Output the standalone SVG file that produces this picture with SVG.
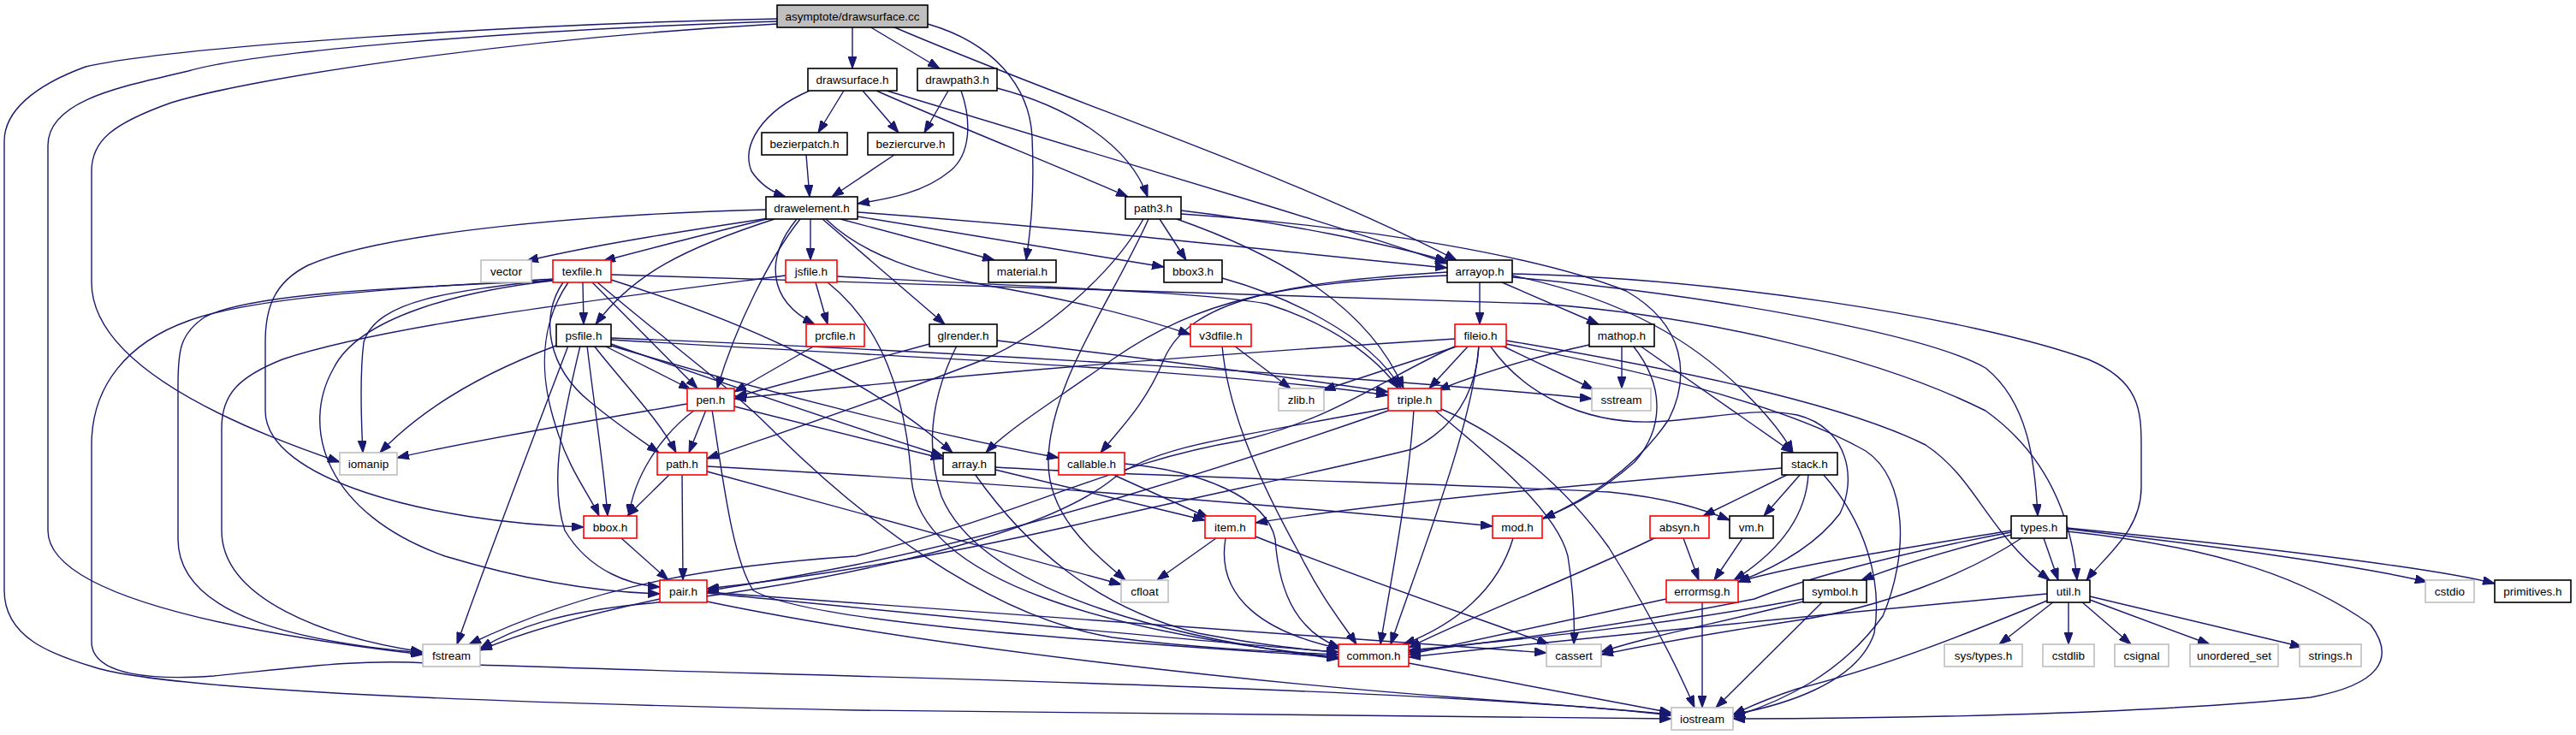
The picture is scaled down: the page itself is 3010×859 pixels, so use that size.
<svg xmlns="http://www.w3.org/2000/svg" width="3010" height="859" viewBox="0 0 3010 859">
<defs>
<marker id="a" markerWidth="14" markerHeight="10" refX="14" refY="5" orient="auto" markerUnits="userSpaceOnUse"><path d="M0,0L14,5L0,10z" fill="#191970" stroke="#191970" stroke-width="1"/></marker>
<style>
.e path{fill:none;stroke:#191970;stroke-width:1.4;marker-end:url(#a)}
rect{fill:#fff;stroke-width:1.6}
.k rect{stroke:#000}
.r rect{stroke:#ff0000}
.g rect{stroke:#bfbfbf}
.top rect{fill:#bfbfbf;stroke:#000}
text{font-family:"Liberation Sans",Arial,sans-serif;font-size:13.5px;text-anchor:middle;fill:#000}
</style>
</defs>
<rect x="0" y="0" width="3010" height="859" style="fill:#fff;stroke:none"/>
<g id="edges" class="e">
<path d="M996,31 L996,80"/>
<path d="M1016,31 L1098,80"/>
<path d="M1084,28 C1160,50 1203,100 1206,160 C1209,230 1204,270 1199,304"/>
<path d="M1043,31 C1250,120 1500,200 1702,304"/>
<path d="M908,22 C600,28 200,55 100,78 C40,100 5,130 5,165 L5,690 C5,745 60,765 111,780 C200,808 600,822 1000,830 C1500,838 1800,840 1953,840"/>
<path d="M908,25 C600,35 300,60 220,83 C150,100 56,115 56,170 L56,620 C56,700 300,742 494,765"/>
<path d="M908,28 C600,45 300,90 200,120 C130,145 107,165 107,200 L107,330 C107,420 250,490 397,540"/>
<path d="M986,106 L956,155"/>
<path d="M1008,106 L1050,155"/>
<path d="M946,106 C890,130 866,170 878,200 C888,215 903,225 918,230"/>
<path d="M1024,106 C1100,140 1250,200 1318,230"/>
<path d="M1036,106 L1480,240 Q1620,283 1691,308"/>
<path d="M1108,106 L1080,155"/>
<path d="M1123,106 C1135,140 1135,180 1110,200 C1080,225 1040,232 1002,238"/>
<path d="M1165,103 C1250,125 1320,170 1341,230"/>
<path d="M942,181 L946,230"/>
<path d="M1045,181 L972,230"/>
<path d="M905,254 C800,270 700,285 615,305"/>
<path d="M900,255 C820,275 760,290 705,305"/>
<path d="M947,256 L947,304"/>
<path d="M982,256 L1162,304"/>
<path d="M1002,253 L1360,312"/>
<path d="M1002,248 C1300,270 1500,295 1691,313"/>
<path d="M905,256 C800,290 740,320 696,379"/>
<path d="M931,256 C895,300 895,350 952,379"/>
<path d="M961,256 L1104,379"/>
<path d="M965,256 C1010,300 1080,320 1150,333 C1250,350 1330,370 1391,391"/>
<path d="M935,256 C900,300 860,380 838,454"/>
<path d="M895,245 C700,250 450,270 360,310 C320,330 310,360 310,400 L310,480 C310,560 500,610 682,616"/>
<path d="M1355,256 L1386,304"/>
<path d="M1380,246 C1500,260 1620,285 1691,305"/>
<path d="M1375,256 C1500,300 1600,360 1640,454"/>
<path d="M1336,256 C1300,320 1220,390 1150,420 C1050,460 900,510 826,536"/>
<path d="M1342,256 C1300,350 1225,450 1225,540 C1225,600 1270,640 1315,678"/>
<path d="M1380,250 C1600,265 1800,300 1900,340 C1970,380 1975,440 1950,490 C1910,550 1850,585 1803,606"/>
<path d="M681,330 L682,379"/>
<path d="M692,330 L815,454"/>
<path d="M658,330 C630,370 640,430 690,470 C720,495 745,512 770,529"/>
<path d="M664,330 C630,380 630,440 650,500 C665,550 690,580 700,603"/>
<path d="M646,328 C540,340 420,370 390,430 C350,500 380,600 520,650 C620,680 700,692 771,694"/>
<path d="M646,327 C530,340 440,350 425,400 C420,440 422,490 424,529"/>
<path d="M646,328 C500,335 300,340 240,370 C210,390 208,410 208,450 L208,630 C208,720 350,750 494,763"/>
<path d="M646,326 C500,335 300,345 220,375 C150,400 107,450 107,520 L107,750 C107,790 180,795 250,790 C350,780 420,770 500,775 C900,790 1600,800 1953,835"/>
<path d="M698,330 C780,400 850,450 900,500 C1000,600 1150,720 1300,745 C1400,758 1500,762 1564,765"/>
<path d="M714,327 C850,370 1000,430 1113,529"/>
<path d="M714,321 C1000,330 1500,345 1800,355 C2000,370 2200,420 2320,480 C2390,530 2420,600 2427,678"/>
<path d="M953,330 L967,379"/>
<path d="M918,322 C700,350 450,380 330,420 C280,440 259,460 259,500 L259,620 C259,700 380,745 494,762"/>
<path d="M967,330 C1030,380 1058,460 1065,560 C1075,680 1300,740 1564,768"/>
<path d="M978,323 C1150,333 1400,340 1480,355 C1560,380 1610,420 1634,454"/>
<path d="M1428,325 C1500,345 1600,390 1637,454"/>
<path d="M1729,330 L1729,379"/>
<path d="M1755,330 L1868,379"/>
<path d="M1767,322 C1900,350 1980,400 2040,460 C2070,490 2085,510 2095,529"/>
<path d="M1767,324 C2000,345 2250,390 2320,430 C2370,470 2378,540 2381,603"/>
<path d="M1767,320 C2000,325 2300,370 2440,420 C2500,445 2502,480 2502,520 L2502,570 C2502,620 2460,650 2438,678"/>
<path d="M1691,318 C1500,330 1390,350 1360,420 C1340,470 1310,500 1286,529"/>
<path d="M1691,322 C1500,330 1400,350 1300,420 C1230,470 1180,500 1152,529"/>
<path d="M650,404 C580,430 500,470 444,529"/>
<path d="M664,404 C620,520 570,650 534,753"/>
<path d="M686,404 C695,480 705,540 710,603"/>
<path d="M678,404 C660,480 640,560 660,620 C690,670 740,684 771,686"/>
<path d="M694,404 C730,450 770,490 790,529"/>
<path d="M706,404 L807,455"/>
<path d="M714,402 C850,450 1000,500 1102,533"/>
<path d="M714,404 C900,460 1100,510 1237,535"/>
<path d="M714,397 C1000,415 1400,430 1622,462"/>
<path d="M714,395 C1100,410 1600,440 1860,466"/>
<path d="M952,404 L858,458"/>
<path d="M1086,402 L859,464"/>
<path d="M1118,404 C1090,460 1080,520 1100,580 C1150,700 1400,750 1564,770"/>
<path d="M1165,398 C1350,420 1500,440 1622,458"/>
<path d="M1442,404 L1508,454"/>
<path d="M1428,404 C1435,480 1470,560 1520,650 C1545,700 1570,730 1585,753"/>
<path d="M1700,396 C1400,415 1100,440 858,466"/>
<path d="M1705,404 L1546,456"/>
<path d="M1716,404 L1670,454"/>
<path d="M1702,404 C1620,440 1560,490 1450,515 C1300,540 1200,600 1000,650 C850,660 700,680 548,753"/>
<path d="M1728,404 C1725,460 1700,500 1650,525 C1550,550 1400,580 1250,615 C1050,660 900,680 826,688"/>
<path d="M1622,477 C1450,510 1350,520 1300,560 C1200,640 900,690 760,705 C650,715 600,735 561,758"/>
<path d="M1622,480 C1450,540 1200,620 1000,660 C900,680 850,686 826,691"/>
<path d="M1728,404 C1720,500 1660,650 1625,753"/>
<path d="M1755,404 L1862,455"/>
<path d="M1741,404 C1780,460 1850,495 1930,493 C2000,490 2050,475 2100,485 C2160,500 2170,560 2150,600 C2120,640 2070,665 2031,680"/>
<path d="M1760,402 C1900,430 2080,470 2180,527 C2230,560 2230,650 2200,720 C2150,790 2080,820 2025,838"/>
<path d="M1760,398 C1950,430 2150,470 2250,520 C2310,560 2320,620 2395,678"/>
<path d="M1895,404 L1895,454"/>
<path d="M1916,404 L2095,529"/>
<path d="M1908,404 C1945,450 1945,500 1910,540 C1870,575 1840,590 1803,606"/>
<path d="M1857,403 C1780,420 1720,440 1680,456"/>
<path d="M803,472 C700,490 550,515 464,535"/>
<path d="M825,479 L805,529"/>
<path d="M812,479 C770,510 740,560 735,603"/>
<path d="M858,475 L1102,536"/>
<path d="M832,479 C845,560 855,650 880,690 C950,730 1300,750 1564,768"/>
<path d="M783,554 L733,603"/>
<path d="M797,554 L798,678"/>
<path d="M826,551 L1310,683"/>
<path d="M826,545 C1100,560 1500,590 1744,615"/>
<path d="M726,629 L781,678"/>
<path d="M1139,554 C1200,640 1280,710 1400,740 C1480,755 1530,760 1564,762"/>
<path d="M1163,549 L1408,608"/>
<path d="M1163,546 C1400,560 1700,565 1880,575 C1950,582 1990,595 2021,608"/>
<path d="M1299,554 L1412,605"/>
<path d="M1314,542 C1400,550 1480,580 1490,630 C1495,700 1520,740 1566,757"/>
<path d="M1421,629 L1352,678"/>
<path d="M1432,629 C1420,700 1480,740 1566,758"/>
<path d="M1467,627 C1600,680 1720,720 1810,753"/>
<path d="M2090,554 L1990,603"/>
<path d="M2104,554 L2061,603"/>
<path d="M2113,554 C2110,610 2070,650 2026,678"/>
<path d="M2130,554 C2180,610 2200,680 2190,740 C2170,800 2080,825 2025,835"/>
<path d="M2082,547 C1800,570 1600,590 1467,611"/>
<path d="M1967,629 L1985,678"/>
<path d="M1935,628 C1850,670 1720,720 1646,757"/>
<path d="M2036,629 L2003,678"/>
<path d="M1768,629 C1750,690 1700,730 1640,753"/>
<path d="M1947,700 L1646,765"/>
<path d="M1989,703 L1989,827"/>
<path d="M2107,700 C1950,730 1800,745 1646,760"/>
<path d="M2107,703 C2000,730 1920,745 1871,762"/>
<path d="M2130,703 L2005,827"/>
<path d="M2350,620 C2200,645 2100,660 2031,680"/>
<path d="M2350,625 C2270,645 2220,660 2175,678"/>
<path d="M2350,622 C2200,650 2100,680 2050,700 C1900,730 1750,750 1646,762"/>
<path d="M2362,629 C2300,670 2200,710 2100,725 C2000,740 1920,755 1871,765"/>
<path d="M2388,629 L2405,678"/>
<path d="M2415,618 C2600,640 2750,660 2836,680"/>
<path d="M2415,617 C2650,640 2850,665 2915,682"/>
<path d="M2415,621 C2600,640 2700,680 2770,730 C2800,770 2780,800 2700,815 C2500,835 2200,840 2025,840"/>
<path d="M2400,703 L2336,753"/>
<path d="M2417,703 L2417,753"/>
<path d="M2432,703 L2490,753"/>
<path d="M2442,701 L2582,753"/>
<path d="M2442,697 L2690,756"/>
<path d="M2392,694 C2200,712 1900,740 1646,768"/>
<path d="M2392,702 C2300,740 2200,780 2100,805 C2060,818 2040,828 2025,835"/>
<path d="M771,700 C700,715 620,735 561,760"/>
<path d="M826,693 C1100,720 1400,750 1564,762"/>
<path d="M826,692 C1200,720 1600,745 1807,763"/>
<path d="M826,703 C1100,760 1500,800 1700,815 C1800,822 1900,830 1953,836"/>
<path d="M1646,775 L1953,833"/>
<path d="M1652,479 C1645,580 1625,680 1613,753"/>
<path d="M1676,479 C1750,540 1820,600 1832,650 C1840,700 1840,730 1839,753"/>
<path d="M1684,478 C1760,510 1830,570 1880,640 C1930,720 1960,780 1980,827"/>
</g>
<g id="n_drawsurface_cc" class="top"><rect x="908" y="6" width="176" height="26"/><text x="996" y="24">asymptote/drawsurface.cc</text></g>
<g id="n_drawsurface_h" class="k"><rect x="944" y="80" width="104" height="26"/><text x="996" y="98">drawsurface.h</text></g>
<g id="n_drawpath3_h" class="k"><rect x="1072" y="80" width="93" height="26"/><text x="1118.5" y="98">drawpath3.h</text></g>
<g id="n_bezierpatch_h" class="k"><rect x="890" y="155" width="100" height="26"/><text x="940" y="173">bezierpatch.h</text></g>
<g id="n_beziercurve_h" class="k"><rect x="1014" y="155" width="100" height="26"/><text x="1064" y="173">beziercurve.h</text></g>
<g id="n_drawelement_h" class="k"><rect x="895" y="230" width="107" height="26"/><text x="948.5" y="248">drawelement.h</text></g>
<g id="n_path3_h" class="k"><rect x="1315" y="230" width="65" height="26"/><text x="1347.5" y="248">path3.h</text></g>
<g id="n_vector" class="g"><rect x="562" y="304" width="59" height="26"/><text x="591.5" y="322">vector</text></g>
<g id="n_texfile_h" class="r"><rect x="646" y="304" width="68" height="26"/><text x="680" y="322">texfile.h</text></g>
<g id="n_jsfile_h" class="r"><rect x="918" y="304" width="60" height="26"/><text x="948" y="322">jsfile.h</text></g>
<g id="n_material_h" class="k"><rect x="1155" y="304" width="79" height="26"/><text x="1194.5" y="322">material.h</text></g>
<g id="n_bbox3_h" class="k"><rect x="1360" y="304" width="68" height="26"/><text x="1394" y="322">bbox3.h</text></g>
<g id="n_arrayop_h" class="k"><rect x="1691" y="304" width="76" height="26"/><text x="1729" y="322">arrayop.h</text></g>
<g id="n_psfile_h" class="k"><rect x="650" y="379" width="64" height="26"/><text x="682" y="397">psfile.h</text></g>
<g id="n_prcfile_h" class="r"><rect x="942" y="379" width="68" height="26"/><text x="976" y="397">prcfile.h</text></g>
<g id="n_glrender_h" class="k"><rect x="1086" y="379" width="79" height="26"/><text x="1125.5" y="397">glrender.h</text></g>
<g id="n_v3dfile_h" class="r"><rect x="1391" y="379" width="71" height="26"/><text x="1426.5" y="397">v3dfile.h</text></g>
<g id="n_fileio_h" class="r"><rect x="1700" y="379" width="60" height="26"/><text x="1730" y="397">fileio.h</text></g>
<g id="n_mathop_h" class="k"><rect x="1857" y="379" width="76" height="26"/><text x="1895" y="397">mathop.h</text></g>
<g id="n_pen_h" class="r"><rect x="803" y="454" width="55" height="26"/><text x="830.5" y="472">pen.h</text></g>
<g id="n_zlib_h" class="g"><rect x="1494" y="454" width="53" height="26"/><text x="1520.5" y="472">zlib.h</text></g>
<g id="n_triple_h" class="r"><rect x="1622" y="454" width="62" height="26"/><text x="1653" y="472">triple.h</text></g>
<g id="n_sstream" class="g"><rect x="1860" y="454" width="69" height="26"/><text x="1894.5" y="472">sstream</text></g>
<g id="n_iomanip" class="g"><rect x="397" y="529" width="67" height="26"/><text x="430.5" y="547">iomanip</text></g>
<g id="n_path_h" class="r"><rect x="768" y="529" width="58" height="26"/><text x="797" y="547">path.h</text></g>
<g id="n_array_h" class="k"><rect x="1102" y="529" width="61" height="26"/><text x="1132.5" y="547">array.h</text></g>
<g id="n_callable_h" class="r"><rect x="1237" y="529" width="77" height="26"/><text x="1275.5" y="547">callable.h</text></g>
<g id="n_stack_h" class="k"><rect x="2082" y="529" width="65" height="26"/><text x="2114.5" y="547">stack.h</text></g>
<g id="n_bbox_h" class="r"><rect x="682" y="603" width="62" height="26"/><text x="713" y="621">bbox.h</text></g>
<g id="n_item_h" class="r"><rect x="1408" y="603" width="59" height="26"/><text x="1437.5" y="621">item.h</text></g>
<g id="n_mod_h" class="r"><rect x="1744" y="603" width="58" height="26"/><text x="1773" y="621">mod.h</text></g>
<g id="n_absyn_h" class="r"><rect x="1928" y="603" width="69" height="26"/><text x="1962.5" y="621">absyn.h</text></g>
<g id="n_vm_h" class="k"><rect x="2021" y="603" width="51" height="26"/><text x="2046.5" y="621">vm.h</text></g>
<g id="n_types_h" class="k"><rect x="2350" y="603" width="65" height="26"/><text x="2382.5" y="621">types.h</text></g>
<g id="n_pair_h" class="r"><rect x="771" y="678" width="55" height="26"/><text x="798.5" y="696">pair.h</text></g>
<g id="n_cfloat" class="g"><rect x="1310" y="678" width="55" height="26"/><text x="1337.5" y="696">cfloat</text></g>
<g id="n_errormsg_h" class="r"><rect x="1947" y="678" width="84" height="26"/><text x="1989" y="696">errormsg.h</text></g>
<g id="n_symbol_h" class="k"><rect x="2107" y="678" width="74" height="26"/><text x="2144" y="696">symbol.h</text></g>
<g id="n_util_h" class="k"><rect x="2392" y="678" width="50" height="26"/><text x="2417" y="696">util.h</text></g>
<g id="n_cstdio" class="g"><rect x="2834" y="678" width="57" height="26"/><text x="2862.5" y="696">cstdio</text></g>
<g id="n_primitives_h" class="k"><rect x="2915" y="678" width="89" height="26"/><text x="2959.5" y="696">primitives.h</text></g>
<g id="n_fstream" class="g"><rect x="494" y="753" width="67" height="26"/><text x="527.5" y="771">fstream</text></g>
<g id="n_common_h" class="r"><rect x="1564" y="753" width="82" height="26"/><text x="1605" y="771">common.h</text></g>
<g id="n_cassert" class="g"><rect x="1807" y="753" width="64" height="26"/><text x="1839" y="771">cassert</text></g>
<g id="n_sys_types_h" class="g"><rect x="2272" y="753" width="91" height="26"/><text x="2317.5" y="771">sys/types.h</text></g>
<g id="n_cstdlib" class="g"><rect x="2387" y="753" width="60" height="26"/><text x="2417" y="771">cstdlib</text></g>
<g id="n_csignal" class="g"><rect x="2471" y="753" width="63" height="26"/><text x="2502.5" y="771">csignal</text></g>
<g id="n_unordered_set" class="g"><rect x="2559" y="753" width="103" height="26"/><text x="2610.5" y="771">unordered_set</text></g>
<g id="n_strings_h" class="g"><rect x="2687" y="753" width="72" height="26"/><text x="2723" y="771">strings.h</text></g>
<g id="n_iostream" class="g"><rect x="1953" y="827" width="72" height="26"/><text x="1989" y="845">iostream</text></g>
</svg>
